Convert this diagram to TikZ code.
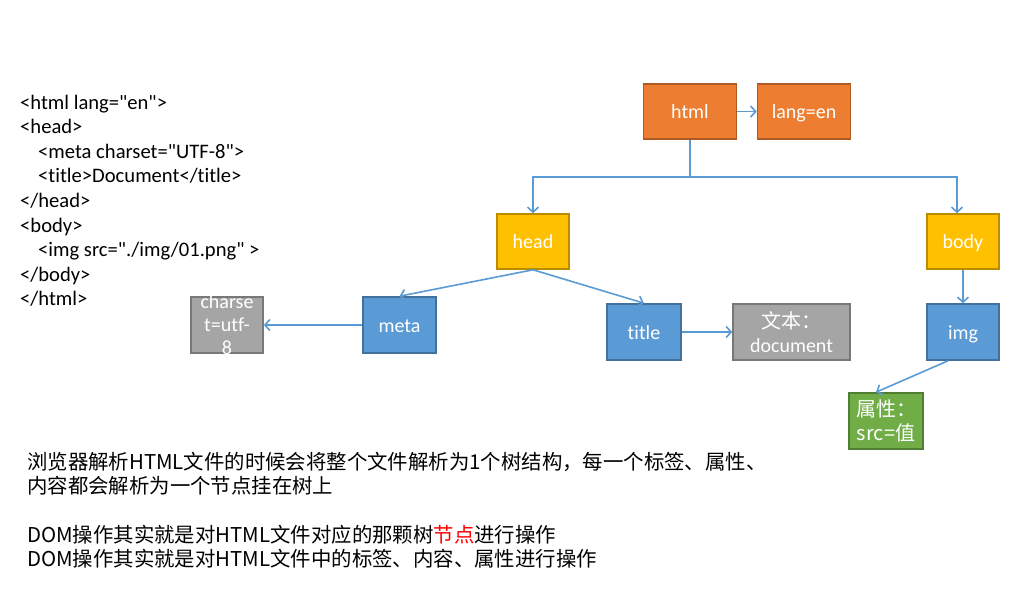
\documentclass[tikz,border=0pt]{standalone}
\usepackage{fontspec}
\setmainfont{Carlito}[Ligatures={TeXOff,NoCommon}]
\newfontfamily\cjk{Noto Sans CJK SC}
\usetikzlibrary{arrows.meta}
\definecolor{lineblue}{HTML}{5B9BD5}
\definecolor{fOrange}{HTML}{ED7D31}\definecolor{dOrange}{HTML}{AE5A21}
\definecolor{fYellow}{HTML}{FFC000}\definecolor{dYellow}{HTML}{BC8C00}
\definecolor{fBlue}{HTML}{5B9BD5}\definecolor{dBlue}{HTML}{41719C}
\definecolor{fGray}{HTML}{A5A5A5}\definecolor{dGray}{HTML}{787878}
\definecolor{fGreen}{HTML}{70AD47}\definecolor{dGreen}{HTML}{507E32}
\begin{document}
\begin{tikzpicture}[x=1pt,y=-1pt,
  box/.style={draw, line width=1.6pt, inner sep=0pt, text=white, align=center,
    font=\fontsize{20}{24}\selectfont, minimum height=55pt},
  oneline/.style={text height=14pt, text depth=0pt},
  obox/.style={box, fill=fOrange, draw=dOrange, minimum width=93pt},
  ybox/.style={box, fill=fYellow, draw=dYellow, minimum width=72pt},
  bbox/.style={box, fill=fBlue, draw=dBlue, minimum width=72pt},
  gbox/.style={box, fill=fGray, draw=dGray, minimum width=72pt},
  grbox/.style={box, fill=fGreen, draw=dGreen, minimum width=74pt},
  conn/.style={draw=lineblue, line width=1.6pt, -{Straight Barb[length=5pt,width=11pt]}},
  code/.style={anchor=north west, inner sep=0pt, align=left, font=\fontsize{20.6}{24.6}\selectfont},
  cn/.style={anchor=west, inner sep=0pt, font=\cjk\fontsize{20.4}{24}\selectfont}
]
\useasboundingbox[fill=white] (0,0) rectangle (1009,604);

% code listing
\node[code] (src) at (20,94.5) {<html lang="en">\\
<head>\\
\hspace*{18pt}<meta charset="UTF-8">\\
\hspace*{18pt}<title>Document</title>\\
</head>\\
<body>\\
\hspace*{18pt}<img src="./img/01.png" >\\
</body>\\
</html>};

% tree nodes
\node[obox, oneline] (html) at (690,111.5) {html};
\node[obox, oneline] (lang) at (804,111.5) {lang=en};
\node[ybox, oneline] (head) at (533,241.5) {head};
\node[ybox, oneline] (body) at (963,241.5) {body};
\node[bbox, oneline, minimum width=73pt, minimum height=56pt] (meta) at (399.5,325) {meta};
\node[gbox, minimum height=56pt] (charset) at (227,325) {};
\begin{scope}
  \clip (charset.south west) rectangle (charset.north east);
  \node[text=white, align=center, inner sep=0pt, font=\fontsize{20}{23}\selectfont] (charsettext) at (charset.center) {charse\\t=utf-\\8};
\end{scope}
\node[bbox, oneline, minimum width=74pt, minimum height=56pt] (title) at (644,332) {title};
\node[gbox, minimum width=117pt, minimum height=56pt] (doc) at (791.5,332) {{\cjk 文本：}\\document};
\node[bbox, oneline, minimum height=56pt] (img) at (963,332) {img};
\node[grbox, minimum height=56pt] (prop) at (886,421) {\cjk 属性：\\\cjk src=值};

% connectors
\draw[conn] (html) -- (lang);
\coordinate (split) at ([yshift=-37pt]html.south);
\draw[conn] (html.south) -- (split) -| (head.north);
\draw[conn] (html.south) -- (split) -| ([xshift=-6pt]body.north);
\draw[conn] (head.south) -- (meta.north);
\draw[conn] (head.south) -- (title.north);
\draw[conn] (meta) -- (charset);
\draw[conn] (title) -- (doc);
\draw[conn] (body) -- (img);
\draw[conn] ([xshift=-15pt]img.south) -- ([xshift=-10pt]prop.north);

% explanatory text
\node[cn] (t1) at (27,462) {浏览器解析HTML文件的时候会将整个文件解析为1个树结构，每一个标签、属性、};
\node[cn] (t2) at (27,486) {内容都会解析为一个节点挂在树上};
\node[cn] (t3) at (27,535) {DOM操作其实就是对HTML文件对应的那颗树\textcolor{red}{节点}进行操作};
\node[cn] (t4) at (27,559) {DOM操作其实就是对HTML文件中的标签、内容、属性进行操作};
\end{tikzpicture}
\end{document}
